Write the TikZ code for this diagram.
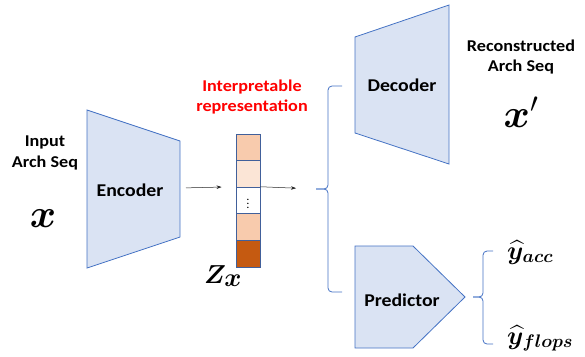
\documentclass[tikz,border=0pt]{standalone}
\usepackage{fix-cm}
\usepackage{amsmath,bm}
\usepackage{fontspec}
\setmainfont{Carlito}[FakeStretch=1.1]
\usepackage{tikz}
\usetikzlibrary{arrows.meta}
\usepackage{xcolor}
\definecolor{blockfill}{HTML}{DAE3F3}
\definecolor{blockline}{HTML}{4472C4}
\definecolor{cellline}{HTML}{41609B}
\definecolor{cellA}{HTML}{F8CBAD}
\definecolor{cellB}{HTML}{FBE5D6}
\definecolor{cellD}{HTML}{C55A11}
\tikzset{%
	block/.style={
		fill=blockfill,
		draw=blockline,
		line width=0.8pt
	},
	blocklabel/.style={
		font=\fontsize{18}{20}\selectfont\bfseries
	},
	caption/.style={
		align=center,
		font=\fontsize{16.5}{20.5}\selectfont\bfseries
	},
	latent/.style={
		draw=cellline,
		line width=0.9pt,
		minimum width=24pt,
		minimum height=26.6pt,
		inner sep=0pt
	},
	brace/.style={
		draw=blockline,
		line width=0.8pt,
		rounded corners=4pt
	},
	arrow/.style={
		-{Stealth[length=5pt,width=3.5pt]},
		line width=0.5pt,
		black!85
	},
}

\begin{document}
\begin{tikzpicture}[x=1pt,y=-1pt]
			\useasboundingbox (0,0) rectangle (585,356);

			% Draw the encoder
			\draw[block] (87,110) -- (180,141) -- (180,237) -- (87,268) -- cycle;
			\node[blocklabel] (enc) at (130,190) {Encoder};
			\coordinate (enc out) at (180,188);
			\node[caption] (input) at (45,153) {Input\\Arch Seq};
			\node[font=\fontsize{40}{44}\selectfont, anchor=base] (xin) at (43,227) {$\bm{x}$};

			% Draw the latent vector
			\foreach \c [count=\i] in {cellA,cellB,white,cellA,cellD}
				\node[latent, fill=\c] (z\i) at (248,{147.3+26.6*(\i-1)}) {};
			\node[font=\fontsize{9}{9}\selectfont, inner sep=0pt] (zdots) at (z3.center) {$\bm{\vdots}$};
			\node[caption, text=red] (interp) at (252,97) {Interpretable\\representation};
			\node[font=\fontsize{26}{28}\selectfont, anchor=base west, inner sep=0pt] (zx) at (204,283) {$\bm{Z}_{\textstyle\bm{x}}$};

			% Draw the arrows
			\draw[arrow, shorten <=6pt, shorten >=14pt] (enc out) -- (z3.north west);
			\coordinate (lat nub) at (316,189);
			\draw[arrow, shorten >=20pt] (z3.north east) -- (lat nub);

			% Draw the first brace
			\draw[brace] (342,86) -- (328,86) -- (328,189) -- (lat nub);
			\draw[brace] (lat nub) -- (328,189) -- (328,292) -- (342,292);

			% Draw the decoder
			\draw[block] (355,37) -- (449,5) -- (449,164) -- (355,133) -- cycle;
			\node[blocklabel] (dec) at (402,85) {Decoder};
			\node[caption] (recon) at (521,57) {Reconstructed\\Arch Seq};
			\node[font=\fontsize{40}{44}\selectfont, anchor=base] (xout) at (521,127) {$\bm{x}'$};

			% Draw the predictor
			\draw[block] (355,246) -- (413,246) -- (465,297) -- (413,348) -- (355,348) -- cycle;
			\node[blocklabel] (pred) at (402,300) {Predictor};

			% Draw the second brace
			\coordinate (pred nub) at (473,297);
			\draw[brace] (493,251) -- (483,251) -- (483,297) -- (pred nub);
			\draw[brace] (pred nub) -- (483,297) -- (483,344) -- (493,344);
			\node[font=\fontsize{26}{28}\selectfont, anchor=base west, inner sep=0pt] (yacc) at (507,259) {$\widehat{\bm{y}}_{\bm{acc}}$};
			\node[font=\fontsize{26}{28}\selectfont, anchor=base west, inner sep=0pt] (yflops) at (507,344) {$\widehat{\bm{y}}_{\bm{flops}}$};

		\end{tikzpicture}
\end{document}
